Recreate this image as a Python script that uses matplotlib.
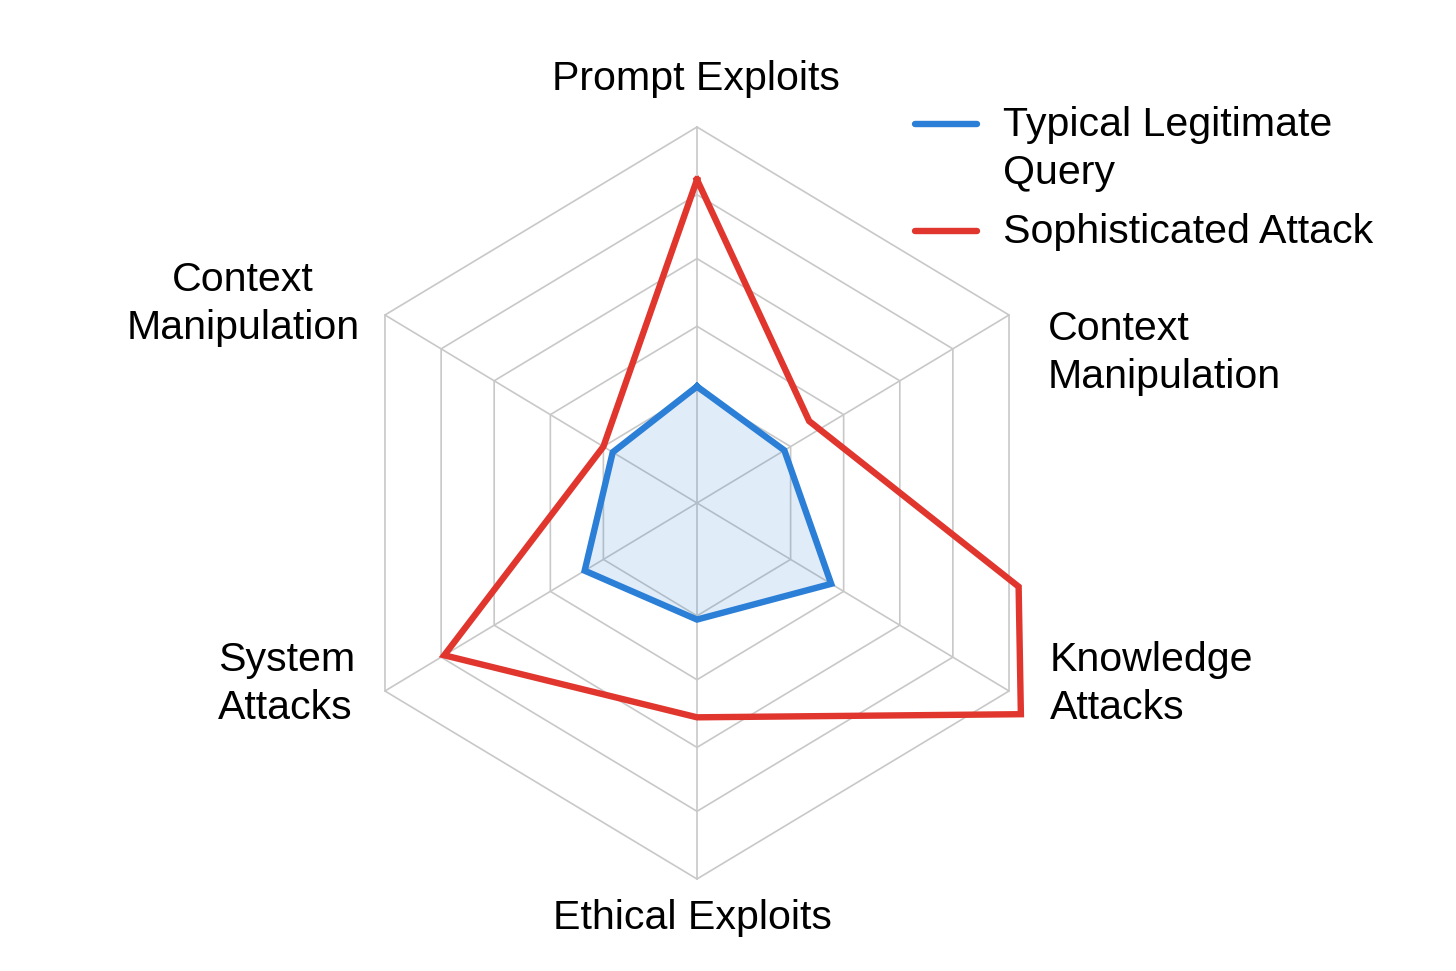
import numpy as np
import matplotlib.pyplot as plt
from matplotlib.lines import Line2D

plt.rcParams['font.family'] = ['Liberation Sans', 'DejaVu Sans']

# axes of the radar, clockwise from the top
labels = ['Prompt Exploits', 'Context\nManipulation', 'Knowledge\nAttacks',
          'Ethical Exploits', 'System\nAttacks', 'Context\nManipulation']
axis_angles = [90, 30, -30, -90, -150, 150]
grid_levels = [30, 47, 65, 82, 100]

# typical legitimate query, one value per axis
legit_values = [31, 28, 43, 31, 36, 27]

# sophisticated attack outline (angle in degrees, value)
attack_angles = [90, 35, -14, -32, -90, -150, 150]
attack_values = [86, 38, 92, 106, 57, 81, 30]

series_names = ['Typical Legitimate\nQuery', 'Sophisticated Attack']
blue = '#2b7fd6'
red = '#e0362e'


def to_xy(angles, values):
    a = np.radians(np.array(angles, dtype=float))
    r = np.array(values, dtype=float) / 100.0
    x = r * np.cos(a)
    y = r * np.sin(a)
    return np.append(x, x[0]), np.append(y, y[0])


fig = plt.figure(figsize=(14.56, 9.71), dpi=100)
ax = fig.add_axes([0, 0, 1, 1])
ax.set_xlim(-1.9345, 2.1066)
ax.set_ylim(-1.2447, 1.3378)
ax.axis('off')

# hexagon grid + spokes
for lvl in grid_levels:
    gx, gy = to_xy(axis_angles, [lvl] * len(axis_angles))
    ax.plot(gx, gy, color='#c8c8c8', lw=1.2, zorder=1)
for ang in axis_angles:
    sx, sy = to_xy([ang, ang], [0, 100])
    ax.plot(sx[:2], sy[:2], color='#c8c8c8', lw=1.2, zorder=1)

# series
bx, by = to_xy(axis_angles, legit_values)
ax.fill(bx, by, color=blue, alpha=0.14, lw=0, zorder=2)
ax.plot(bx, by, color=blue, lw=4.6, solid_joinstyle='miter', zorder=3)

rx, ry = to_xy(attack_angles, attack_values)
ax.plot(rx, ry, color=red, lw=4.6, solid_joinstyle='miter', zorder=4)

# axis labels
fs = 29.6
ls = 1.34
ax.text(-0.003, 1.128, labels[0], fontsize=fs, ha='center', va='center')
ax.text(0.974, 0.40, labels[1], fontsize=fs, ha='left', va='center', linespacing=ls)
ax.text(0.98, -0.481, labels[2], fontsize=fs, ha='left', va='center', linespacing=ls)
ax.text(-0.012, -1.105, labels[3], fontsize=fs, ha='center', va='center')
ax.text(-0.949, -0.481, labels[4], fontsize=fs, ha='right', va='center',
        multialignment='left', linespacing=ls)
ax.text(-0.937, 0.529, labels[5], fontsize=fs, ha='right', va='center',
        multialignment='center', linespacing=ls)

# legend drawn by hand so the swatch sits on the first text line
for yy, col in [(0.8723, blue), (0.7621, red)]:
    fig.add_artist(Line2D([0.6284, 0.671], [yy, yy], color=col, lw=4.6,
                          solid_capstyle='round', transform=fig.transFigure))
fig.text(0.6889, 0.891, series_names[0], fontsize=fs, ha='left', va='top',
         linespacing=ls)
fig.text(0.6889, 0.7611, series_names[1], fontsize=fs, ha='left', va='center')

fig.savefig('out.png', dpi=100, facecolor='white')
